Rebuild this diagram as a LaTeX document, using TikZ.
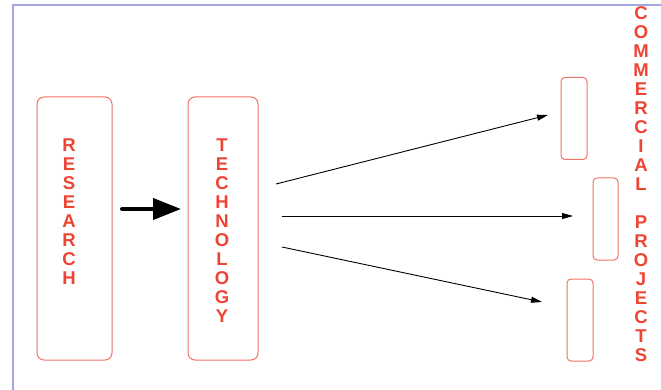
\documentclass[tikz,border=0pt]{standalone}
\usepackage{fontspec}
\setmainfont{Liberation Sans}
\usetikzlibrary{arrows.meta}
\definecolor{txtred}{RGB}{238,68,51}
\definecolor{boxred}{RGB}{240,115,100}
\definecolor{frameblue}{RGB}{165,165,230}
\begin{document}
\begin{tikzpicture}[x=1pt,y=-1pt,
  bigbox/.style={draw=boxred,line width=1pt,rounded corners=7pt,inner sep=0pt,minimum width=#1},
  smallbox/.style={draw=boxred,line width=1pt,rounded corners=4pt,inner sep=0pt,minimum width=26pt,minimum height=82pt},
  vlabel/.style={text=txtred,align=center,inner sep=0pt,font=\fontsize{18.5}{19}\selectfont\bfseries},
  thinarrow/.style={line width=0.9pt,-{Triangle[length=11pt,width=6pt]}}]
\useasboundingbox (0,0) rectangle (661,390);
\draw[frameblue,line width=1.5pt] (13,390) -- (13,5) -- (661,5);
% boxes
\node[bigbox=75pt,minimum height=263pt] (research) at (74.5,228.5) {};
\node[bigbox=70pt,minimum height=263pt] (technology) at (223,228.5) {};
\node[smallbox] (cp1) at (574,118.5) {};
\node[smallbox,minimum width=25pt] (cp2) at (605.5,219) {};
\node[smallbox] (cp3) at (580,320) {};
% labels
\node[vlabel] (lres) at (69,212) {R\\E\\S\\E\\A\\R\\C\\H};
\node[vlabel] (ltec) at (222,231) {T\\E\\C\\H\\N\\O\\L\\O\\G\\Y};
\node[vlabel] (lcp) at (641,184.5) {C\\O\\M\\M\\E\\R\\C\\I\\A\\L\\[19pt]P\\R\\O\\J\\E\\C\\T\\S};
% arrows
\coordinate (rs) at (122,209);
\coordinate (re) at (181,209);
\draw[line width=4pt,line cap=round,-{Triangle[length=28pt,width=21pt]}] (rs) -- (re);
\coordinate (a1s) at (276,184);
\coordinate (a1e) at (548,115);
\coordinate (a2s) at (282,216);
\coordinate (a2e) at (573,216);
\coordinate (a3s) at (282,247);
\coordinate (a3e) at (542,302);
\draw[thinarrow] (a1s) -- (a1e);
\draw[thinarrow] (a2s) -- (a2e);
\draw[thinarrow] (a3s) -- (a3e);
\end{tikzpicture}
\end{document}
